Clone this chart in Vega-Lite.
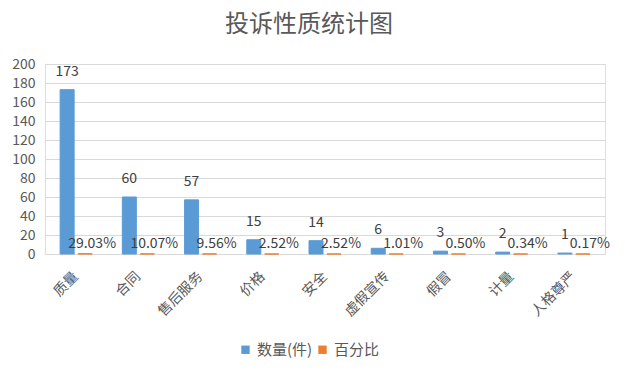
{
  "$schema": "https://vega.github.io/schema/vega-lite/v6.json",
  "autosize": "none",
  "width": 560,
  "height": 190,
  "padding": {"left": 45, "top": 64, "right": 20, "bottom": 123},
  "background": "white",
  "title": {
    "text": "投诉性质统计图",
    "fontSize": 24,
    "font": "Noto Sans CJK SC",
    "fontWeight": "normal",
    "color": "#595959",
    "anchor": "middle",
    "dx": -16,
    "offset": 20
  },
  "data": {
    "values": [
      {"cat": "质量", "series": "数量(件)", "value": 173},
      {"cat": "合同", "series": "数量(件)", "value": 60},
      {"cat": "售后服务", "series": "数量(件)", "value": 57},
      {"cat": "价格", "series": "数量(件)", "value": 15},
      {"cat": "安全", "series": "数量(件)", "value": 14},
      {"cat": "虚假宣传", "series": "数量(件)", "value": 6},
      {"cat": "假冒", "series": "数量(件)", "value": 3},
      {"cat": "计量", "series": "数量(件)", "value": 2},
      {"cat": "人格尊严", "series": "数量(件)", "value": 1},
      {"cat": "质量", "series": "百分比", "value": 0.2903},
      {"cat": "合同", "series": "百分比", "value": 0.1007},
      {"cat": "售后服务", "series": "百分比", "value": 0.0956},
      {"cat": "价格", "series": "百分比", "value": 0.0252},
      {"cat": "安全", "series": "百分比", "value": 0.0252},
      {"cat": "虚假宣传", "series": "百分比", "value": 0.0101},
      {"cat": "假冒", "series": "百分比", "value": 0.005},
      {"cat": "计量", "series": "百分比", "value": 0.0034},
      {"cat": "人格尊严", "series": "百分比", "value": 0.0017}
    ]
  },
  "encoding": {
    "x": {
      "field": "cat",
      "type": "nominal",
      "sort": null,
      "scale": {"paddingInner": 0.486, "paddingOuter": 0.243},
      "axis": {
        "title": null,
        "labelAngle": -45,
        "labelAlign": "right",
        "labelBaseline": "middle",
        "labelFontSize": 14,
        "labelFont": "Noto Sans CJK SC",
        "labelColor": "#595959",
        "labelPadding": 20,
        "ticks": false,
        "domain": true,
        "domainColor": "#d9d9d9"
      }
    },
    "xOffset": {
      "field": "series",
      "type": "nominal",
      "scale": {"paddingInner": 0.22, "paddingOuter": 0}
    },
    "y": {
      "field": "value",
      "type": "quantitative",
      "scale": {"domain": [0, 200], "nice": false},
      "axis": {
        "title": null,
        "values": [0, 20, 40, 60, 80, 100, 120, 140, 160, 180, 200],
        "labelFontSize": 14,
        "labelFont": "Noto Sans CJK SC",
        "labelColor": "#595959",
        "labelPadding": 10,
        "ticks": false,
        "domain": false,
        "gridColor": "#d9d9d9"
      }
    }
  },
  "layer": [
    {
      "mark": {"type": "bar", "strokeWidth": 1},
      "encoding": {
        "color": {
          "field": "series",
          "type": "nominal",
          "scale": {"domain": ["数量(件)", "百分比"], "range": ["#5b9bd5", "#ed7d31"]},
          "legend": {
            "title": null,
            "orient": "none",
            "direction": "horizontal",
            "legendX": 193,
            "legendY": 278,
            "symbolType": "square",
            "symbolSize": 70,
            "symbolStrokeWidth": 0,
            "labelFontSize": 15,
            "labelFont": "Noto Sans CJK SC",
            "labelColor": "#595959",
            "columnPadding": 2,
            "labelOffset": 4
          }
        },
        "stroke": {
          "field": "series",
          "type": "nominal",
          "scale": {"domain": ["数量(件)", "百分比"], "range": ["#5b9bd5", "#ed7d31"]},
          "legend": null
        }
      }
    },
    {
      "transform": [{"filter": "datum.series === '数量(件)'"}],
      "mark": {"type": "text", "baseline": "alphabetic", "dy": -14, "fontSize": 14, "font": "Noto Sans CJK SC", "color": "#404040"},
      "encoding": {"text": {"field": "value", "type": "quantitative", "format": "d"}}
    },
    {
      "transform": [{"filter": "datum.series === '百分比'"}],
      "mark": {"type": "text", "baseline": "alphabetic", "dy": -6, "dx": 7, "fontSize": 14, "font": "Noto Sans CJK SC", "color": "#404040"},
      "encoding": {"text": {"field": "value", "type": "quantitative", "format": ".2%"}}
    }
  ]
}
